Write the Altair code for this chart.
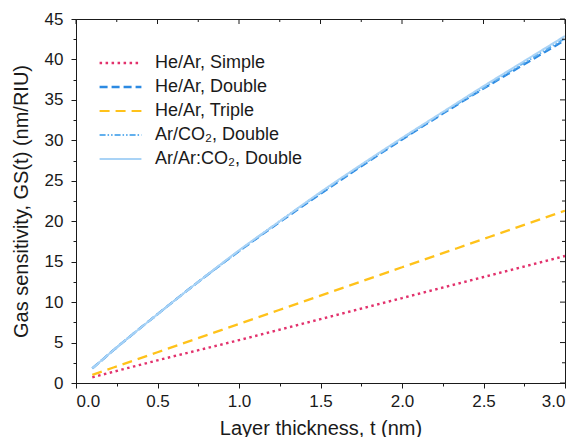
import altair as alt
import pandas as pd

# ---- data ----
t_double = [0.1, 0.25, 0.5, 0.75, 1.0, 1.25, 1.5, 1.75, 2.0, 2.25, 2.5, 2.75, 3.0]
he_ar_double = [1.8, 4.4, 8.5, 12.5, 16.3, 19.9, 23.4, 26.8, 30.1, 33.3, 36.4, 39.4, 42.4]
ar_co2_double = [1.8, 4.4, 8.5, 12.5, 16.3, 20.0, 23.5, 26.9, 30.2, 33.4, 36.5, 39.6, 42.6]
ar_ar_co2_double = [1.8, 4.4, 8.5, 12.5, 16.4, 20.0, 23.6, 27.0, 30.3, 33.5, 36.7, 39.8, 42.9]

t_lin = [0.1, 0.5, 1.0, 1.5, 2.0, 2.5, 3.0]
he_ar_simple = [0.7, 2.8, 5.3, 7.9, 10.5, 13.1, 15.7]
he_ar_triple = [1.0, 3.8, 7.3, 10.8, 14.3, 17.8, 21.3]

series = ["He/Ar, Simple", "He/Ar, Double", "He/Ar, Triple",
          "Ar/CO\u2082, Double", "Ar/Ar:CO\u2082, Double"]
colors = ["#E2316C", "#2C8AE2", "#FFC21A", "#62B0EE", "#A9D3F6"]
dashes = [[2.5, 3.5], [8, 4], [10, 6], [6, 2, 1.5, 2, 1.5, 2], [1, 0]]
widths = [2.4, 2.0, 2.2, 1.6, 3.0]

# axis tick positions (major + minor)
y_vals = [i * 2.5 for i in range(19)]
x_vals = [i * 0.25 for i in range(13)]
x_major_vals = [v for v in x_vals if (v * 2) == int(v * 2)]
x_minor_vals = [v for v in x_vals if (v * 2) != int(v * 2)]
y_major_vals = [v for v in y_vals if v % 5 == 0]
y_minor_vals = [v for v in y_vals if v % 5 != 0]

rows = []
for name, ts, vs in [
    (series[0], t_lin, he_ar_simple),
    (series[1], t_double, he_ar_double),
    (series[2], t_lin, he_ar_triple),
    (series[3], t_double, ar_co2_double),
    (series[4], t_double, ar_ar_co2_double),
]:
    for t, v in zip(ts, vs):
        rows.append({"series": name, "t": t, "gs": v})
df = pd.DataFrame(rows)

W, H = 489, 364
font = "Liberation Sans"
ink = "#1a1a1a"

x_major = "abs(datum.value*2 - round(datum.value*2)) < 0.001"
y_major = "datum.value % 5 === 0"

x_scale = alt.Scale(domain=[0, 3], nice=False, zero=False)
y_scale = alt.Scale(domain=[0, 45], nice=False)

x_axis = alt.Axis(
    values=x_vals, labelExpr=f"{x_major} ? format(datum.value, '.1f') : ''",
    tickSize={"condition": {"test": x_major, "value": 5}, "value": 3},
    title="Layer thickness, t (nm)", grid=False, titlePadding=9,
    labelPadding=5,
)
y_axis = alt.Axis(
    values=y_vals, labelExpr=f"{y_major} ? format(datum.value, 'd') : ''",
    tickSize={"condition": {"test": y_major, "value": 5}, "value": 3},
    title="Gas sensitivity, GS(t) (nm/RIU)", grid=False, titlePadding=13,
    labelPadding=8,
)

lines = alt.Chart(df).mark_line(clip=True, interpolate="monotone").encode(
    x=alt.X("t:Q", scale=x_scale, axis=x_axis),
    y=alt.Y("gs:Q", scale=y_scale, axis=y_axis),
    color=alt.Color("series:N", scale=alt.Scale(domain=series, range=colors),
                    sort=series,
                    legend=alt.Legend(title=None, orient="none", legendX=22, legendY=35,
                                      symbolType="stroke", symbolSize=1750,
                                      clipHeight=18, rowPadding=6,
                                      labelFontSize=18, labelFont=font,
                                      labelColor=ink, labelOffset=12)),
    strokeDash=alt.StrokeDash("series:N", scale=alt.Scale(domain=series, range=dashes),
                              sort=series, legend=alt.Legend(title=None)),
    strokeWidth=alt.StrokeWidth("series:N", scale=alt.Scale(domain=series, range=widths),
                                sort=series, legend=alt.Legend(title=None)),
    order=alt.Order("series:N"),
)

# inward ticks on the top and right edges of the frame
top_major = alt.Chart(pd.DataFrame({"t": x_major_vals})).mark_rule(color=ink, strokeWidth=1).encode(
    x=alt.X("t:Q", scale=x_scale, axis=x_axis), y=alt.value(0), y2=alt.value(5))
top_minor = alt.Chart(pd.DataFrame({"t": x_minor_vals})).mark_rule(color=ink, strokeWidth=1).encode(
    x=alt.X("t:Q", scale=x_scale, axis=x_axis), y=alt.value(0), y2=alt.value(3))
right_major = alt.Chart(pd.DataFrame({"gs": y_major_vals})).mark_rule(color=ink, strokeWidth=1).encode(
    y=alt.Y("gs:Q", scale=y_scale, axis=y_axis), x=alt.value(W - 5), x2=alt.value(W))
right_minor = alt.Chart(pd.DataFrame({"gs": y_minor_vals})).mark_rule(color=ink, strokeWidth=1).encode(
    y=alt.Y("gs:Q", scale=y_scale, axis=y_axis), x=alt.value(W - 3), x2=alt.value(W))

chart = alt.layer(lines, top_major, top_minor, right_major, right_minor).properties(
    width=W, height=H,
    autosize=alt.AutoSizeParams(type="none"),
    padding={"left": 68, "top": 11, "right": 6, "bottom": 54},
).configure_view(stroke=ink, strokeWidth=1).configure_axis(
    domainColor=ink, tickColor=ink, labelColor=ink, titleColor=ink,
    labelFont=font, titleFont=font, labelFontSize=17, titleFontSize=20,
    titleFontWeight="normal", domainWidth=1, tickWidth=1,
)

chart.save("out.html", embed_options={"renderer": "svg", "actions": False})
